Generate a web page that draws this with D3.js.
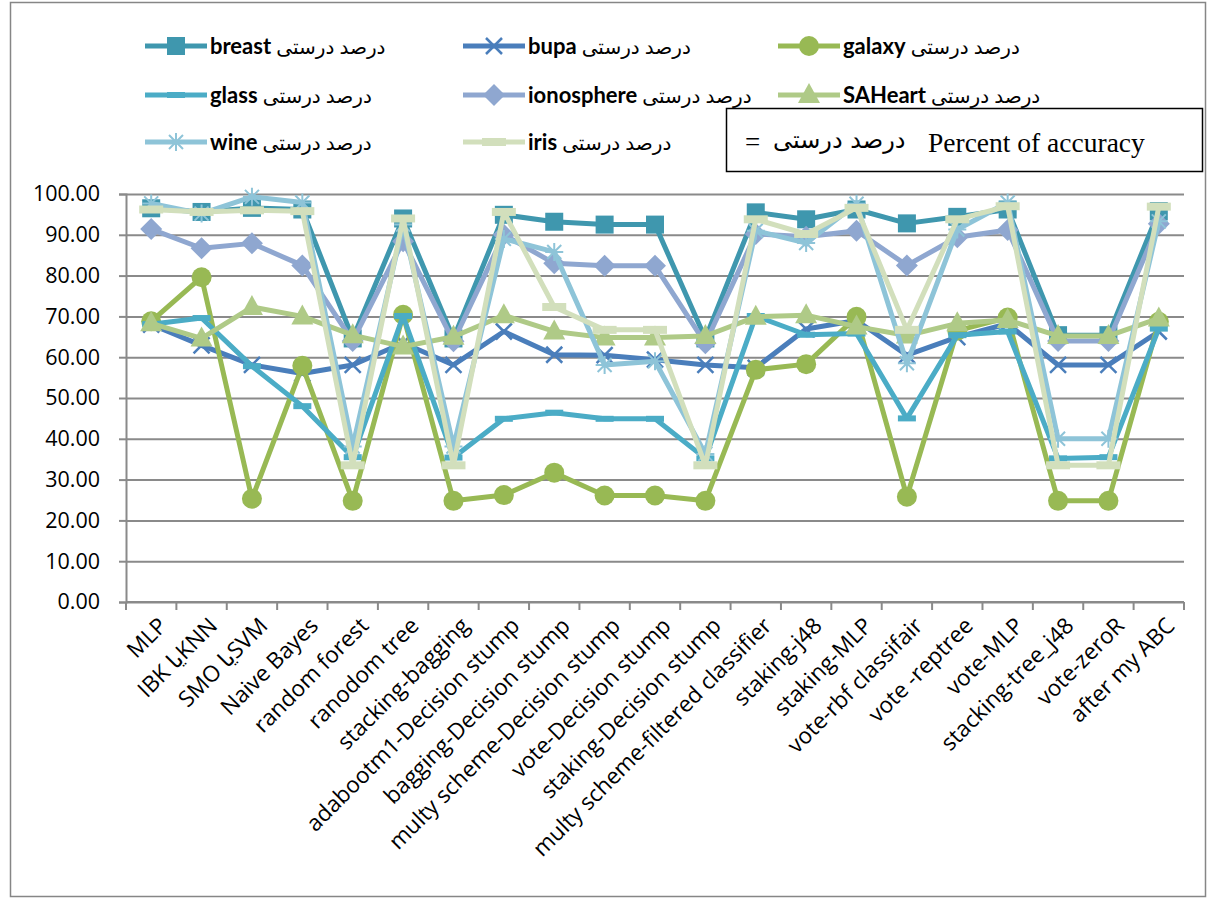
<!DOCTYPE html>
<html>
<head>
<meta charset="utf-8">
<script src="https://cdn.jsdelivr.net/npm/d3@7"></script>
<style>
  body { margin: 0; background: #fff; }
  svg { display: block; }
  text { font-family: 'Open Sans', 'DejaVu Sans', sans-serif; fill: #000; }
</style>
</head>
<body>
<svg width="1210" height="900"></svg>
<script>
const categories = ['MLP', 'IBK  یاKNN', 'SMO  یاSVM', 'Naive Bayes', 'random forest', 'ranodom  tree',
  'stacking-bagging', 'adabootm1-Decision stump', 'bagging-Decision stump', 'multy scheme-Decision stump',
  'vote-Decision stump', 'staking-Decision stump', 'multy scheme-filtered classifier', 'staking-j48',
  'staking-MLP', 'vote-rbf classifair', 'vote -reptree', 'vote-MLP', 'stacking-tree_j48', 'vote-zeroR',
  'after  my ABC'];

const breast = [96.5, 95.6, 96.6, 96.2, 64.6, 94.0, 64.6, 94.9, 93.2, 92.5, 92.5, 64.6, 95.5, 93.8, 96.2, 92.8, 94.4, 96.2, 65.4, 65.4, 95.8];
const bupa = [68.0, 62.9, 58.1, 56.0, 58.1, 63.5, 58.1, 66.3, 60.6, 60.5, 59.4, 58.1, 57.4, 66.9, 69.0, 60.5, 64.9, 68.2, 58.1, 58.1, 66.3];
const galaxy = [68.8, 79.6, 25.3, 57.9, 24.8, 70.4, 24.8, 26.2, 31.7, 26.1, 26.1, 24.8, 56.9, 58.3, 69.9, 25.8, 66.5, 69.7, 24.8, 24.8, 68.7];
const glass = [68.1, 69.6, 57.8, 48.0, 35.5, 70.1, 35.4, 44.9, 46.4, 44.9, 44.9, 35.2, 70.1, 65.5, 65.8, 45.0, 65.4, 66.3, 35.2, 35.5, 67.0];
const ionosphere = [91.4, 86.7, 87.9, 82.5, 64.0, 88.4, 63.9, 90.0, 83.0, 82.4, 82.4, 63.4, 90.2, 89.5, 91.0, 82.5, 89.4, 91.2, 64.0, 64.0, 92.7];
const saheart = [68.3, 64.6, 72.3, 70.0, 65.4, 62.6, 65.0, 70.3, 66.3, 64.8, 64.8, 65.2, 69.9, 70.3, 67.5, 65.3, 68.3, 69.1, 65.2, 65.2, 69.5];
const wine = [97.7, 95.2, 99.3, 97.9, 38.1, 92.5, 38.1, 89.0, 85.8, 58.1, 59.0, 36.3, 91.0, 88.0, 97.6, 58.5, 91.3, 97.9, 40.0, 40.0, 93.3];
const iris = [96.2, 95.6, 96.0, 95.8, 33.5, 94.0, 33.5, 95.6, 72.3, 66.7, 66.7, 33.5, 93.8, 90.2, 96.6, 66.7, 93.8, 97.0, 33.5, 33.5, 96.9];

const yTicks = [0, 10, 20, 30, 40, 50, 60, 70, 80, 90, 100];
const fa = 'درصد درستی';

const seriesNames = ['breast', 'bupa', 'galaxy', 'glass', 'ionosphere', 'SAHeart', 'wine', 'iris'];
const seriesValues = [breast, bupa, galaxy, glass, ionosphere, saheart, wine, iris];
const seriesColors = ['#3f97ae', '#4a7ebb', '#98b954', '#4bacc6', '#8fa7d0', '#afca87', '#8ec4d8', '#d2dfbc'];
const seriesMarkers = ['square', 'x', 'circle', 'dash', 'diamond', 'triangle', 'star', 'longdash'];

const margin = { top: 194, right: 26, bottom: 298, left: 126 };
const width = 1210;
const height = 900;
const svg = d3.select('svg');

// outer frame
svg.append('rect')
  .attr('x', 10.5).attr('y', 2.5)
  .attr('width', 1195).attr('height', 894)
  .attr('fill', 'none').attr('stroke', '#868686').attr('stroke-width', 1.5);

const x = d3.scaleBand()
  .domain(categories)
  .range([margin.left, width - margin.right])
  .padding(0);

const y = d3.scaleLinear()
  .domain([0, 100])
  .range([height - margin.bottom, margin.top]);

// gridlines
svg.append('g')
  .attr('transform', `translate(${margin.left},0)`)
  .call(d3.axisLeft(y).tickValues(yTicks).tickSize(-(width - margin.left - margin.right)).tickFormat(''))
  .call(g => g.select('.domain').remove())
  .call(g => g.selectAll('line').attr('stroke', '#8a8a8a').attr('stroke-width', 2));

// y axis
svg.append('g')
  .attr('transform', `translate(${margin.left},0)`)
  .call(d3.axisLeft(y).tickValues(yTicks).tickSize(7).tickPadding(19).tickFormat(d3.format('.2f')))
  .call(g => g.select('.domain').attr('stroke', '#8a8a8a').attr('stroke-width', 2))
  .call(g => g.selectAll('line').attr('stroke', '#8a8a8a').attr('stroke-width', 2))
  .call(g => g.selectAll('text').style('font-size', '21.5px').attr('fill', '#000'));

// x axis
const xAxis = svg.append('g')
  .attr('transform', `translate(0,${height - margin.bottom})`);

xAxis.append('line')
  .attr('x1', margin.left).attr('x2', width - margin.right)
  .attr('stroke', '#8a8a8a').attr('stroke-width', 2);

xAxis.selectAll('.tk')
  .data(categories.concat(['__end']))
  .enter()
  .append('line')
  .attr('x1', (d, i) => margin.left + i * x.step())
  .attr('x2', (d, i) => margin.left + i * x.step())
  .attr('y1', 0).attr('y2', 8)
  .attr('stroke', '#8a8a8a').attr('stroke-width', 2);

xAxis.selectAll('.lbl')
  .data(categories)
  .enter()
  .append('text')
  .attr('transform', d => `translate(${x(d) + x.bandwidth() / 2 + 6},${14}) rotate(-45)`)
  .attr('text-anchor', 'end')
  .attr('dy', '0.7em')
  .style('font-size', '22.5px')
  .text(d => d);

// marker drawing
const drawMarker = function (g, type, color) {
  if (type === 'square') {
    g.append('rect').attr('x', -9).attr('y', -9).attr('width', 18).attr('height', 18).attr('fill', color);
  } else if (type === 'x') {
    g.append('path').attr('d', 'M-8,-8L8,8M-8,8L8,-8').attr('stroke', color).attr('stroke-width', 2.5);
  } else if (type === 'circle') {
    g.append('circle').attr('r', 10).attr('fill', color);
  } else if (type === 'dash') {
    g.append('rect').attr('x', -9).attr('y', -3).attr('width', 18).attr('height', 6).attr('fill', color);
  } else if (type === 'diamond') {
    g.append('path').attr('d', 'M0,-11L11,0L0,11L-11,0Z').attr('fill', color);
  } else if (type === 'triangle') {
    g.append('path').attr('d', 'M0,-12L11,8L-11,8Z').attr('fill', color);
  } else if (type === 'star') {
    g.append('path').attr('d', 'M-9,0L9,0M0,-9L0,9M-7,-7L7,7M-7,7L7,-7').attr('stroke', color).attr('stroke-width', 2);
  } else if (type === 'longdash') {
    g.append('rect').attr('x', -12).attr('y', -4).attr('width', 24).attr('height', 8).attr('fill', color);
  }
};

const line = d3.line()
  .x((d, i) => x(categories[i]) + x.bandwidth() / 2)
  .y(d => y(d));

const plot = svg.append('g');

seriesNames.forEach(function (name, s) {
  const g = plot.append('g');
  g.append('path')
    .datum(seriesValues[s])
    .attr('d', line)
    .attr('fill', 'none')
    .attr('stroke', seriesColors[s])
    .attr('stroke-width', 5)
    .attr('stroke-linejoin', 'round');
  g.selectAll('.m')
    .data(seriesValues[s])
    .enter()
    .append('g')
    .attr('transform', (d, i) => `translate(${x(categories[i]) + x.bandwidth() / 2},${y(d)})`)
    .each(function () {
      drawMarker(d3.select(this), seriesMarkers[s], seriesColors[s]);
    });
});

// legend
const legendCols = [145, 463, 778];
const legendRows = [46, 95, 142];
const legend = svg.append('g');

seriesNames.forEach(function (name, s) {
  const lx = legendCols[s % 3];
  const ly = legendRows[Math.floor(s / 3)];
  const item = legend.append('g').attr('transform', `translate(${lx},${ly})`);
  item.append('line')
    .attr('x1', 0).attr('x2', 62)
    .attr('stroke', seriesColors[s]).attr('stroke-width', 5);
  drawMarker(item.append('g').attr('transform', 'translate(31,0)'), seriesMarkers[s], seriesColors[s]);
  const t = item.append('text')
    .attr('x', 65)
    .attr('dy', '0.35em')
    .style('font-family', "Lato, 'DejaVu Sans', sans-serif")
    .style('font-size', '22px');
  t.append('tspan').style('font-weight', 'bold').text(name);
  t.append('tspan').style('font-size', '20px').text(' ' + fa);
});

// note box
svg.append('rect')
  .attr('x', 726.5).attr('y', 108.5)
  .attr('width', 476).attr('height', 63)
  .attr('fill', '#fff').attr('stroke', '#000').attr('stroke-width', 1.5);

svg.append('text')
  .attr('x', 745).attr('y', 142).attr('dy', '0.35em')
  .style('font-family', "'Liberation Serif', 'DejaVu Serif', serif")
  .style('font-size', '27px')
  .text('=');

svg.append('text')
  .attr('x', 773).attr('y', 140).attr('dy', '0.35em')
  .style('font-family', "'DejaVu Sans', serif")
  .style('font-size', '24px')
  .text(fa);

svg.append('text')
  .attr('x', 928).attr('y', 142).attr('dy', '0.35em')
  .style('font-family', "'Liberation Serif', 'DejaVu Serif', serif")
  .style('font-size', '27.5px')
  .text('Percent of accuracy');
</script>
</body>
</html>
